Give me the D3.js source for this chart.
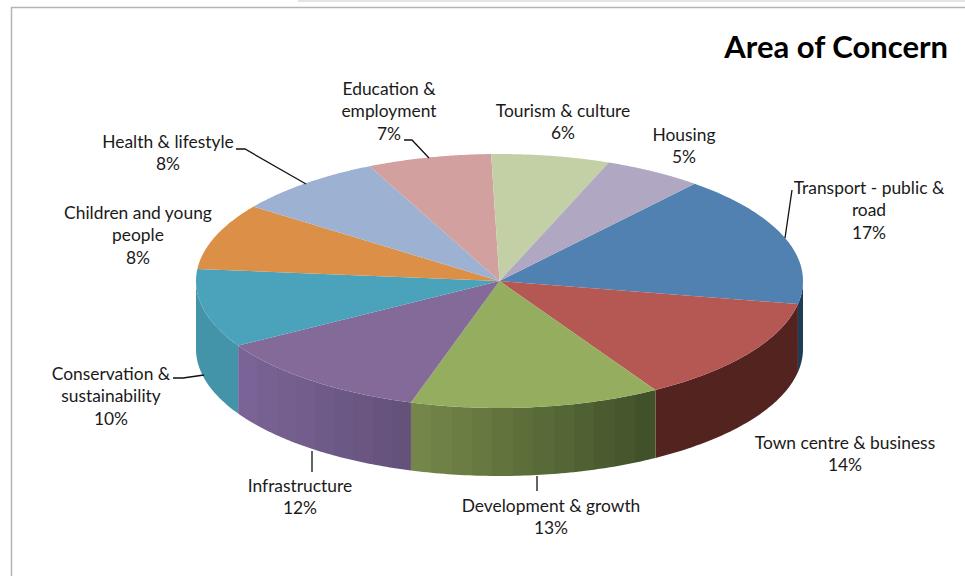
<!DOCTYPE html>
<html><head><meta charset="utf-8">
<script src="https://cdn.jsdelivr.net/npm/d3@7"></script>
<style>html,body{margin:0;padding:0;background:#fff}svg{display:block}text{font-family:Lato,"Open Sans",sans-serif;fill:#1a1a1a}</style>
</head><body><svg id="c" width="965" height="576"></svg>
<script>
const categories = ["Transport - public & road","Town centre & business","Development & growth","Infrastructure","Conservation & sustainability","Children and young people","Health & lifestyle","Education & employment","Tourism & culture","Housing"];
const values = [16.8,13.5,13.3,11.8,10,8.45,8,6.6,6.3,5.25];
const topColors = ["#5081b1","#b55752","#95ad5f","#836a98","#4aa2bb","#dc9047","#9db2d2","#d2a09f","#c3d0a5","#b0a7c2"];
const sideFrom = ["#1f3d57","#52231f","#75864a","#7a6396","#4394a9","#000","#000","#000","#000","#000"];
const sideTo   = ["#1f3d57","#52231f","#41522a","#64527a","#4394a9","#000","#000","#000","#000","#000"];
const labelLines = [["Transport - public &","road"],["Town centre & business"],["Development & growth"],["Infrastructure"],["Conservation &","sustainability"],["Children and young","people"],["Health & lifestyle"],["Education &","employment"],["Tourism & culture"],["Housing"]];
const title = "Area of Concern";

// layout
const W=965,H=576, cx=499.5, cy=281, rx=303.5, ry=127, depth=68, rot=40*Math.PI/180;
const labelAt = [[869,194],[845,449],[551,512],[300,492],[111,380],[138,219],[168,148],[389,95],[563,117],[684,141]];
const leaders = {0:[[792,190],[785,238]],2:[[537,476],[537,491]],3:[[312,451],[312,472]],4:[[173,378],[183,378],[204,375]],6:[[236,149],[245,149],[306,184]],7:[[404,140],[412,140],[429,158]]};

const svg=d3.select("#c");
svg.append("rect").attr("x",298).attr("y",0).attr("width",W-298).attr("height",2).attr("fill","#e4e4e4");
svg.append("path").attr("d",`M11.5 ${H}V7.5H${W}`).attr("fill","none").attr("stroke","#b4b4b4").attr("stroke-width",1.5);

const pie=d3.pie().sort(null).value(d=>d).startAngle(rot).endAngle(rot+2*Math.PI);
const arcs=pie(values);
const px=a=>cx+rx*Math.sin(a), py=a=>cy-ry*Math.cos(a);
const rimPts=(a0,a1)=>d3.range(0,61).map(i=>{const a=a0+(a1-a0)*i/60;return [px(a),py(a)];});
const line=d3.line();
const defs=svg.append("defs");

// side wall
const PI=Math.PI;
arcs.forEach((d,i)=>{
  const s=d.startAngle, e=d.endAngle;
  const lo=Math.max(s,PI/2), hi=Math.min(e,3*PI/2);
  if(hi<=lo) return;
  const x0=px(lo), x1=px(hi);
  const id="side"+i, grad=defs.append("linearGradient").attr("id",id).attr("gradientUnits","userSpaceOnUse").attr("x1",x0).attr("x2",x1).attr("y1",0).attr("y2",0);
  const mix=d3.interpolateRgb(sideFrom[i],sideTo[i]);
  const n=Math.max(1,Math.round(Math.abs(x1-x0)/20));
  d3.range(n).forEach(k=>{
    const f=1-k/Math.max(n-1,1);
    grad.append("stop").attr("offset",k/n).attr("stop-color",mix(f));
    grad.append("stop").attr("offset",(k+1)/n).attr("stop-color",mix(f));
  });
  const top=rimPts(lo,hi), bot=top.map(p=>[p[0],p[1]+depth]).reverse();
  svg.append("path").attr("d",line(top.concat(bot))+"Z").attr("fill",`url(#${id})`);
});

// top face
svg.selectAll("path.top").data(arcs).join("path").attr("class","top")
  .attr("d",d=>line([[cx,cy]].concat(rimPts(d.startAngle,d.endAngle)))+"Z")
  .attr("fill",(d,i)=>topColors[i]);

// leaders
Object.values(leaders).forEach(l=>{
  svg.append("path").attr("d",line(l)).attr("fill","none").attr("stroke","#111").attr("stroke-width",1.3);
});

// labels
const total=d3.sum(values);
arcs.forEach((d,i)=>{
  const lines=labelLines[i].concat([d3.format(".0f")(d.data/total*100)+"%"]);
  const t=svg.append("text").attr("text-anchor","middle").attr("font-size",17.4);
  lines.forEach((l,k)=>t.append("tspan").attr("x",labelAt[i][0]).attr("y",labelAt[i][1]+k*22.3).text(l));
});
svg.append("text").attr("x",948).attr("y",58).attr("text-anchor","end").attr("font-size",31).attr("font-weight",700).style("fill","#000").text(title);
</script></body></html>
